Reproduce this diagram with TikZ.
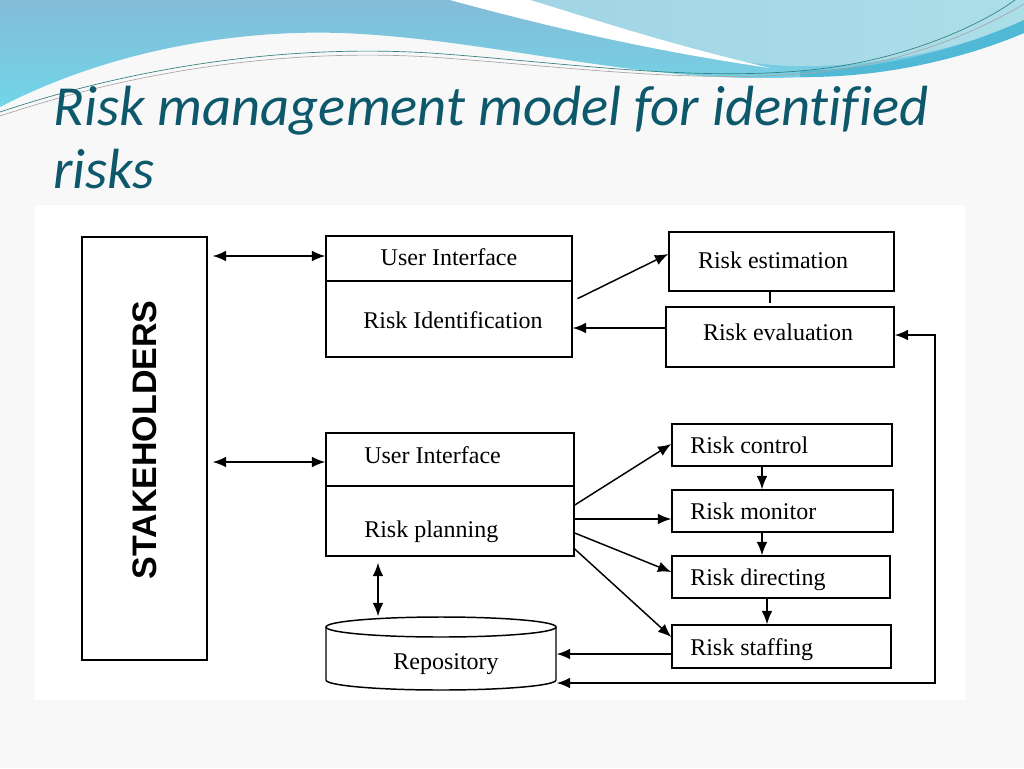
\documentclass[tikz,border=0pt]{standalone}
\usepackage{fontspec}
\setmainfont{Liberation Serif}
\newfontfamily\titlefont[Ligatures=NoCommon]{Carlito}
\newfontfamily\headfont{Liberation Sans}
\usetikzlibrary{arrows.meta}
\definecolor{titleteal}{RGB}{14,88,108}
\definecolor{waveblue}{RGB}{132,188,216}
\definecolor{wavecyan}{RGB}{112,214,232}
\definecolor{wavelight}{RGB}{172,222,233}
\definecolor{wavedark}{RGB}{80,186,214}
\definecolor{slidebg}{RGB}{248,248,248}
\tikzset{>={Latex[length=10pt,width=8pt]}}

\begin{document}
\begin{tikzpicture}[x=0.75pt,y=-0.75pt]
        \useasboundingbox (0,0) rectangle (1024,768);
        \fill[slidebg] (0,0) rectangle (1024,768);
        \fill[white] (35,205) rectangle (965,700);

        \shade[top color=waveblue, bottom color=wavecyan] (0,0) -- (1024,0) -- (1024,33)
          .. controls (960,60) and (880,78) .. (760,78)
          .. controls (620,78) and (480,38) .. (340,33)
          .. controls (250,30) and (120,45) .. (0,107) -- cycle;
        \shade[left color=wavelight!70!waveblue, right color=wavelight] (470,0)
          .. controls (580,30) and (680,60) .. (790,66)
          .. controls (880,68) and (960,48) .. (1024,22) -- (1024,0) -- cycle;
        \fill[wavedark] (800,71) .. controls (900,68) and (970,44) .. (1024,20) -- (1024,33)
          .. controls (960,60) and (880,78) .. (800,77) -- cycle;
        \fill[white] (450,0) .. controls (560,30) and (660,52) .. (770,68)
          .. controls (660,42) and (580,15) .. (530,0) -- cycle;
        \draw[teal!60!gray, line width=0.5pt] (0,112) .. controls (150,62) and (300,45) .. (430,53)
          .. controls (560,62) and (690,82) .. (810,70) .. controls (910,60) and (985,22) .. (1015,0);
        \draw[gray!70, line width=0.5pt] (0,116) .. controls (150,66) and (300,49) .. (430,57)
          .. controls (560,66) and (690,84) .. (810,73) .. controls (915,63) and (990,24) .. (1024,4);

        \begin{scope}[every node/.style={anchor=base west,text=titleteal,inner sep=0pt,
            font=\titlefont\itshape\fontsize{42.5}{48}\selectfont}]
          \node (title1) at (53,125) {Risk management model for identified};
          \node (title2) at (53,188) {risks};
        \end{scope}

        \begin{scope}[every node/.style={draw,line width=1.1pt,inner sep=0pt}]
          \node (stake) at (144.5,448.5) [minimum width=93.75pt,minimum height=317.25pt] {};
          \node (ui1)   at (449,296.5)   [minimum width=184.5pt,minimum height=90.75pt] {};
          \node (est)   at (781.5,261.5) [minimum width=168.75pt,minimum height=44.25pt] {};
          \node (eval)  at (780,337)     [minimum width=171pt,minimum height=45pt] {};
          \node (ui2)   at (450,494.5)   [minimum width=186pt,minimum height=92.25pt] {};
          \node (ctrl)  at (782,445)     [minimum width=165pt,minimum height=31.5pt] {};
          \node (mon)   at (782.5,511)   [minimum width=165.75pt,minimum height=31.5pt] {};
          \node (dir)   at (781,577)     [minimum width=163.5pt,minimum height=31.5pt] {};
          \node (staff) at (781.5,646.5) [minimum width=164.25pt,minimum height=32.25pt] {};
          \node (repo)  at (441,653.5)   [draw=none,minimum width=172.5pt,minimum height=54.75pt] {};
        \end{scope}

        \draw[line width=1.1pt] (ui1.west |- 0,281) -- (ui1.east |- 0,281);
        \draw[line width=1.1pt] (ui2.west |- 0,486) -- (ui2.east |- 0,486);
        \draw[line width=1.1pt] (441,627) ellipse [x radius=86.25pt, y radius=7.5pt];
        \draw[line width=1.1pt] (326,627) -- (326,680)
          arc [start angle=180, end angle=360, x radius=86.25pt, y radius=7.5pt] -- (556,627);

        \node[rotate=90,inner sep=0pt,font=\headfont\bfseries\fontsize{25.5}{28}\selectfont] (staketext)
          at (145,440) {STAKEHOLDERS};

        \begin{scope}[every node/.style={font=\fontsize{18}{20}\selectfont,inner sep=0pt,anchor=base}]
          \node (uitext1)   at (449,265) {User Interface};
          \node (identtext) at (453,328) {Risk Identification};
          \node (esttext)   at (773,268) {Risk estimation};
          \node (evaltext)  at (778,340) {Risk evaluation};
          \node[anchor=base west] (uitext2)   at (364,463) {User Interface};
          \node[anchor=base west] (plantext)  at (364,537) {Risk planning};
          \node[anchor=base west] (ctrltext)  at (690,453) {Risk control};
          \node[anchor=base west] (montext)   at (690,519) {Risk monitor};
          \node[anchor=base west] (dirtext)   at (690,585) {Risk directing};
          \node[anchor=base west] (stafftext) at (690,655) {Risk staffing};
          \node (repotext)  at (446,669) {Repository};
        \end{scope}

        \begin{scope}[every edge/.style={draw,line width=1.1pt,->}]
          \path (stake.east |- 0,256) edge[<->,shorten <=3.75pt] (ui1.west |- 0,256);
          \path (stake.east |- 0,462) edge[<->,shorten <=3.75pt] (ui2.west |- 0,462);
          \path (ui1.east |- 0,301)   edge[shorten <=4pt] (est.west |- 0,254);
          \path (eval.west |- 0,328)  edge (ui1.east |- 0,328);
          \path (ui2.east |- 0,505)   edge (ctrl.west |- 0,444);
          \path (ui2.east |- 0,519)   edge (mon.west |- 0,519);
          \path (ui2.east |- 0,533)   edge (dir.west |- 0,572);
          \path (ui2.east |- 0,549)   edge (staff.west |- 0,637);
          \path (ctrl.south -| 762,0) edge (mon.north -| 762,0);
          \path (mon.south -| 762,0)  edge (dir.north -| 762,0);
          \path (dir.south -| 767,0)  edge (staff.north -| 767,0);
          \path (ui2.south -| 378,0)  edge[<->,shorten <=4.5pt] (repo.north -| 378,0);
          \path (staff.west |- 0,654) edge (repo.east |- 0,654);
        \end{scope}

        \draw[line width=1.1pt] (est.south -| 770,0) -- ++(0,11);
        \coordinate (fb) at (935,683);
        \draw[line width=1.1pt,<->] (eval.east |- 0,335) -| (fb) -- (repo.east |- 0,683);

      \end{tikzpicture}
\end{document}
